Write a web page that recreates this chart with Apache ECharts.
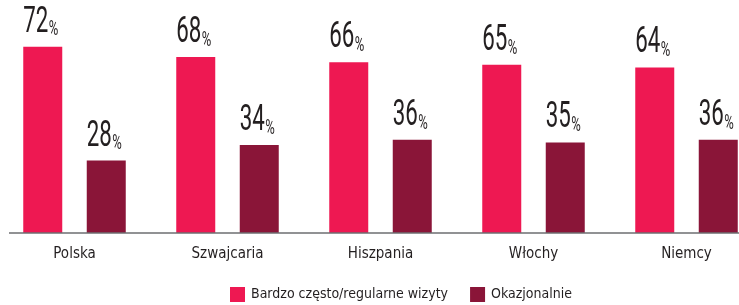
<!DOCTYPE html>
<html><head><meta charset="utf-8">
<script src="https://cdn.jsdelivr.net/npm/echarts@6/dist/echarts.min.js"></script>
<style>html,body{margin:0;padding:0;background:#fff;overflow:hidden;width:739px;height:305px;position:relative}
#c{position:absolute;left:-2px;top:0;width:765px;height:305px}</style>
</head><body><div id="c"></div>
<script>
const categories = ['Polska', 'Szwajcaria', 'Hiszpania', 'Włochy', 'Niemcy'];
const seriesNames = ['Bardzo często/regularne wizyty', 'Okazjonalnie'];
const frequent = [72, 68, 66, 65, 64];
const occasional = [28, 34, 36, 35, 36];

const FONT = "'DejaVu Sans Condensed', sans-serif";
const NUM_FONT = "Roboto, 'DejaVu Sans Condensed', sans-serif";
const COLORS = ['#ee1852', '#8a1538'];
const BAR_W = 39, BAR_GAP = 24.5;
const chart = echarts.init(document.getElementById('c'), null, {renderer: 'canvas'});

function labelSeries(values, idx) {
  return {
    type: 'custom', name: 'lbl' + idx, silent: true, z: 5,
    data: values.map((v, i) => [i, v]),
    renderItem: (params, api) => {
      const v = api.value(1);
      const pt = api.coord([api.value(0), v]);
      const off = (idx === 0 ? -1 : 1) * (BAR_W + BAR_GAP) / 2;
      return {
        type: 'text', x: pt[0] + off - 2, y: pt[1] - 6, scaleX: 0.62,
        style: {
          x: 0, y: 0, text: '{a|' + v + '}{b|%}', align: 'center', verticalAlign: 'bottom',
          rich: {
            a: {fontFamily: NUM_FONT, fontWeight: 400, fontSize: 36, lineHeight: 26, fill: '#231f20', verticalAlign: 'bottom'},
            b: {fontFamily: NUM_FONT, fontWeight: 400, fontSize: 21, lineHeight: 26, fill: '#231f20', verticalAlign: 'bottom', padding: [0,0,0,1]}
          }
        }
      };
    }
  };
}

chart.setOption({
  animation: false,
  grid: {left: 0, right: 0, top: 26, bottom: 72},
  legend: {
    data: seriesNames, top: 282, left: 227, itemWidth: 15, itemHeight: 15, itemGap: 22,
    icon: 'rect',
    textStyle: {fontFamily: FONT, fontSize: 14, lineHeight: 15, color: '#231f20', padding: [0, 0, 0, 1]}
  },
  xAxis: {
    type: 'category', data: categories,
    axisLine: {show: false}, axisTick: {show: false},
    axisLabel: {fontFamily: FONT, fontSize: 15, color: '#231f20', margin: 14}
  },
  yAxis: {type: 'value', min: 0, max: 80, show: false, splitLine: {show: false}},
  graphic: [{
    type: 'line', shape: {x1: 11, y1: 233, x2: 760, y2: 233},
    style: {stroke: '#6d6e70', lineWidth: 1.5}, z: 10
  }],
  series: [
    {name: seriesNames[0], type: 'bar', data: frequent, barWidth: BAR_W, barGap: (BAR_GAP / BAR_W * 100) + '%',
     itemStyle: {color: COLORS[0]}},
    {name: seriesNames[1], type: 'bar', data: occasional, barWidth: BAR_W,
     itemStyle: {color: COLORS[1]}},
    labelSeries(frequent, 0),
    labelSeries(occasional, 1)
  ]
});
</script></body></html>
